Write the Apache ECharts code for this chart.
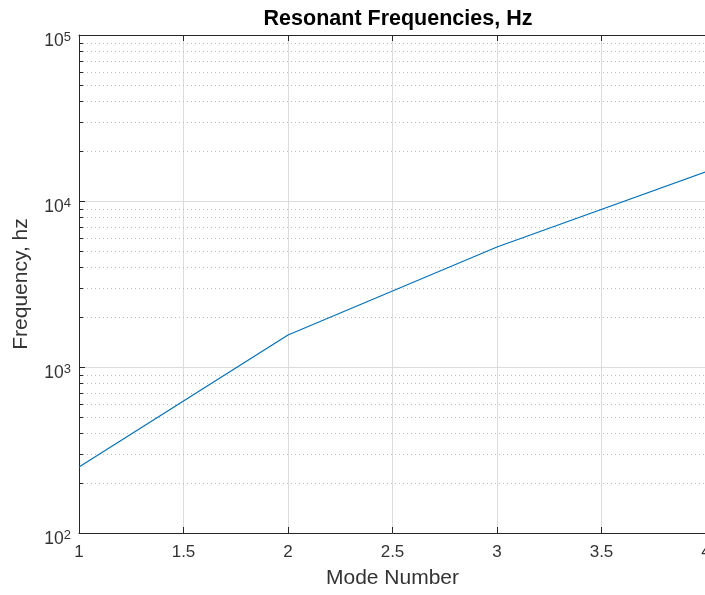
<!DOCTYPE html>
<html>
<head>
<meta charset="utf-8">
<script src="https://cdn.jsdelivr.net/npm/echarts@6/dist/echarts.min.js"></script>
<style>
  html, body { margin: 0; padding: 0; background: #ffffff; }
  #chart { width: 705px; height: 595px; }
</style>
</head>
<body>
<div id="chart"></div>
<script>
// Mode numbers and their resonant frequencies (Hz)
const modeNumbers = [1, 2, 3, 4];
const frequencies = [250, 1560, 5280, 15000];

// Log-axis decade range and the minor (dotted) grid values inside it
const yMin = 100;
const yMax = 100000;
const minorValues = [];
for (let d = yMin; d < yMax; d *= 10) {
  for (let k = 2; k <= 9; k++) minorValues.push(k * d);
}

const FONT = '"Liberation Sans", Arial, Helvetica, sans-serif';
const AXIS_COLOR = '#262626';
const TEXT_COLOR = '#333333';

const chart = echarts.init(document.getElementById('chart'), null, { renderer: 'canvas' });

const lineData = modeNumbers.map((m, i) => [m, frequencies[i]]);

chart.setOption({
  backgroundColor: '#ffffff',
  animation: false,
  title: {
    text: 'Resonant Frequencies, Hz',
    left: 393,
    textAlign: 'center',
    top: 3,
    textStyle: { fontFamily: FONT, fontSize: 21.5, fontWeight: 'bold', color: '#000000' }
  },
  grid: { left: 79, top: 35, width: 627, height: 498, containLabel: false, outerBoundsMode: 'none' },
  xAxis: [
    {
      type: 'value',
      min: 1,
      max: 4,
      interval: 0.5,
      name: 'Mode Number',
      nameLocation: 'middle',
      nameGap: 35,
      nameTextStyle: { fontFamily: FONT, fontSize: 21, color: TEXT_COLOR },
      axisLine: { show: true, onZero: false, lineStyle: { color: AXIS_COLOR, width: 1 } },
      axisTick: { show: true, inside: true, length: 6, lineStyle: { color: AXIS_COLOR } },
      axisLabel: { fontFamily: FONT, fontSize: 17, color: TEXT_COLOR, margin: 11, showMaxLabel: true, hideOverlap: false },
      splitLine: { show: true, lineStyle: { color: '#dcdcdc', width: 1 } }
    },
    {
      type: 'value',
      position: 'top',
      min: 1,
      max: 4,
      interval: 0.5,
      axisLine: { show: true, onZero: false, lineStyle: { color: AXIS_COLOR, width: 1 } },
      axisTick: { show: true, inside: true, length: 6, lineStyle: { color: AXIS_COLOR } },
      axisLabel: { show: false },
      splitLine: { show: false }
    }
  ],
  yAxis: [
    {
      type: 'log',
      logBase: 10,
      min: yMin,
      max: yMax,
      name: 'Frequency, hz',
      nameLocation: 'middle',
      nameGap: 47,
      nameRotate: 90,
      nameTextStyle: { fontFamily: FONT, fontSize: 21, color: TEXT_COLOR },
      axisLine: { show: true, onZero: false, lineStyle: { color: AXIS_COLOR, width: 1 } },
      axisTick: { show: true, inside: true, length: 6, lineStyle: { color: AXIS_COLOR } },
      axisLabel: {
        margin: 8,
        padding: [14, 0, 0, 0],
        formatter: function (v) {
          const e = Math.round(Math.log10(v));
          return '{b|10}{s|' + e + '}';
        },
        rich: {
          b: { fontFamily: FONT, fontSize: 17.5, color: TEXT_COLOR, verticalAlign: 'bottom', lineHeight: 17 },
          s: { fontFamily: FONT, fontSize: 13, color: TEXT_COLOR, verticalAlign: 'bottom', lineHeight: 13, padding: [0, 0, 7, 0] }
        }
      },
      splitLine: { show: true, lineStyle: { color: '#dcdcdc', width: 1 } }
    },
    {
      type: 'log',
      logBase: 10,
      position: 'right',
      min: yMin,
      max: yMax,
      axisLine: { show: true, onZero: false, lineStyle: { color: AXIS_COLOR, width: 1 } },
      axisTick: { show: false },
      axisLabel: { show: false },
      splitLine: { show: false }
    }
  ],
  series: [
    {
      // dotted minor grid lines with short inward ticks on the left axis
      type: 'custom',
      silent: true,
      xAxisIndex: 0,
      yAxisIndex: 0,
      data: minorValues.map(v => [1, v]),
      encode: { x: 0, y: 1 },
      z: 1,
      renderItem: function (params, api) {
        const cs = params.coordSys;
        const p = api.coord([1, api.value(1)]);
        const y = Math.round(p[1]) + 0.5;
        return {
          type: 'group',
          children: [
            {
              type: 'line',
              shape: { x1: cs.x, y1: y, x2: cs.x + cs.width, y2: y },
              style: { stroke: '#bdbdbd', lineWidth: 1, lineDash: [1, 3] }
            },
            {
              type: 'line',
              shape: { x1: cs.x, y1: y, x2: cs.x + 4, y2: y },
              style: { stroke: AXIS_COLOR, lineWidth: 1 }
            }
          ]
        };
      }
    },
    {
      type: 'line',
      xAxisIndex: 0,
      yAxisIndex: 0,
      data: lineData,
      showSymbol: false,
      symbol: 'none',
      z: 3,
      lineStyle: { color: '#0072BD', width: 1.2 },
      itemStyle: { color: '#0072BD' }
    }
  ]
});
</script>
</body>
</html>
